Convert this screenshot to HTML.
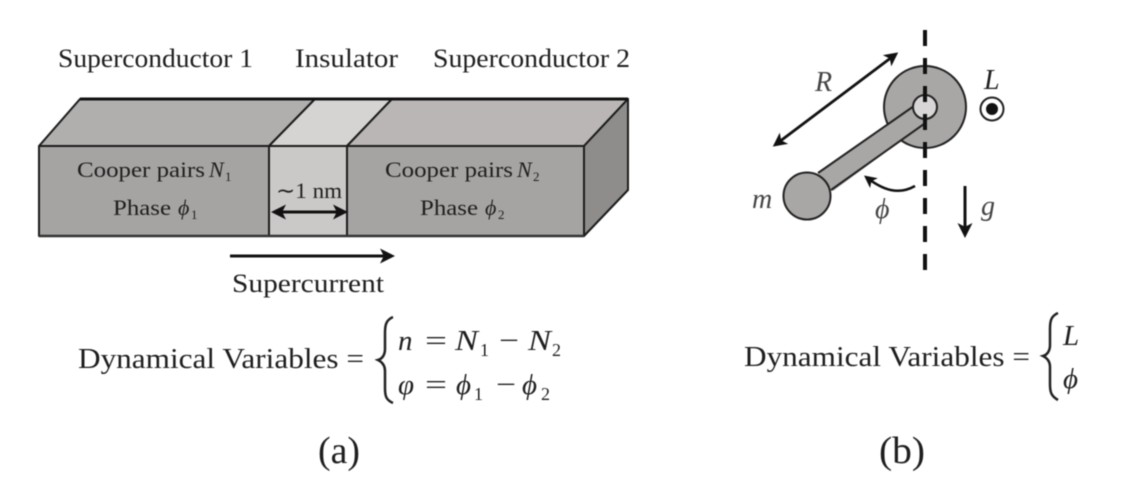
<!DOCTYPE html>
<html>
<head>
<meta charset="utf-8">
<style>
html,body{margin:0;padding:0;background:#fff;width:1136px;height:493px;overflow:hidden}
svg{display:block;filter:blur(.6px)}
text{font-family:"Liberation Serif",serif;fill:#1e1e1e}
.i{font-style:italic}
.g{fill:#444}
</style>
</head>
<body>
<svg width="1136" height="493" viewBox="0 0 1136 493" xmlns="http://www.w3.org/2000/svg">
<defs>
<marker id="ah" viewBox="0 0 10 10" refX="8" refY="5" markerWidth="5" markerHeight="5" orient="auto-start-reverse"><path d="M0 0L10 5L0 10L2.5 5z" fill="#111"/></marker>
</defs>

<!-- Junction block -->
<g stroke="#1c1c1c" stroke-width="2" stroke-linejoin="round">
<polygon points="39,146 80,99 315,99 269,146" fill="#b1aeae"/>
<polygon points="269,146 315,99 392,99 347,146" fill="#d6d4d3"/>
<polygon points="347,146 392,99 628,99 584,146" fill="#b9b6b5"/>
<polygon points="584,146 628,99 628,190 584,236" fill="#8f8d8c"/>
<rect x="39" y="146" width="230" height="90" fill="#a6a4a3"/>
<rect x="269" y="146" width="78" height="90" fill="#cbc9c8"/>
<rect x="347" y="146" width="237" height="90" fill="#a6a4a3"/>
</g>
<line x1="80" y1="99" x2="628" y2="99" stroke="#111" stroke-width="3"/>
<line x1="39" y1="236" x2="584" y2="236" stroke="#333" stroke-width="2.5"/>

<text x="58" y="67" font-size="26" textLength="195" lengthAdjust="spacingAndGlyphs">Superconductor 1</text>
<text x="295" y="67" font-size="26" textLength="103" lengthAdjust="spacingAndGlyphs">Insulator</text>
<text x="433" y="67" font-size="26" textLength="197" lengthAdjust="spacingAndGlyphs">Superconductor 2</text>

<text x="77" y="177" font-size="22" textLength="128" lengthAdjust="spacingAndGlyphs">Cooper pairs</text>
<text x="209" y="177" font-size="22" class="i">N</text><text x="225" y="181" font-size="13">1</text>
<text x="113" y="215" font-size="22" textLength="58" lengthAdjust="spacingAndGlyphs">Phase</text>
<text x="178" y="215" font-size="22" class="i">ϕ</text><text x="191" y="219" font-size="13">1</text>

<text x="385" y="177" font-size="22" textLength="128" lengthAdjust="spacingAndGlyphs">Cooper pairs</text>
<text x="517" y="177" font-size="22" class="i">N</text><text x="533" y="181" font-size="13">2</text>
<text x="420" y="215" font-size="22" textLength="58" lengthAdjust="spacingAndGlyphs">Phase</text>
<text x="485" y="215" font-size="22" class="i">ϕ</text><text x="498" y="219" font-size="13">2</text>

<text x="276" y="198" font-size="22" textLength="66" lengthAdjust="spacingAndGlyphs">∼1 nm</text>
<line x1="274" y1="212" x2="345" y2="212" stroke="#111" stroke-width="3" marker-start="url(#ah)" marker-end="url(#ah)"/>

<line x1="230" y1="256" x2="392" y2="256" stroke="#111" stroke-width="3" marker-end="url(#ah)"/>
<text x="232" y="292" font-size="26" textLength="152" lengthAdjust="spacingAndGlyphs">Supercurrent</text>

<!-- Equation a -->
<text x="78" y="368" font-size="29" textLength="286" lengthAdjust="spacingAndGlyphs">Dynamical Variables =</text>
<path d="M393 317C386 320 385 325 385 333V349C385 355 382 359 378 360C382 362 385 365 385 371V388C385 396 386 400 393 403" fill="none" stroke="#222" stroke-width="2.5"/>
<text x="398" y="350" font-size="29" class="i">n</text>
<text x="425" y="350" font-size="29" textLength="22" lengthAdjust="spacingAndGlyphs">=</text>
<text x="455" y="350" font-size="29" class="i" textLength="23" lengthAdjust="spacingAndGlyphs">N</text><text x="480" y="356" font-size="18">1</text>
<text x="499" y="350" font-size="29" textLength="20" lengthAdjust="spacingAndGlyphs">−</text>
<text x="528" y="350" font-size="29" class="i" textLength="23" lengthAdjust="spacingAndGlyphs">N</text><text x="552" y="356" font-size="18">2</text>
<text x="398" y="394" font-size="29" class="i">φ</text>
<text x="425" y="394" font-size="29" textLength="22" lengthAdjust="spacingAndGlyphs">=</text>
<text x="456" y="394" font-size="29" class="i">ϕ</text><text x="474" y="400" font-size="18">1</text>
<text x="496" y="394" font-size="29" textLength="20" lengthAdjust="spacingAndGlyphs">−</text>
<text x="522" y="394" font-size="29" class="i">ϕ</text><text x="541" y="400" font-size="18">2</text>

<text x="318" y="463" font-size="38" textLength="42" lengthAdjust="spacingAndGlyphs">(a)</text>

<!-- Pendulum -->
<circle cx="925" cy="107" r="41" fill="#a9a7a6" stroke="#222" stroke-width="2"/>
<polygon points="914,106 924,124 833,191 818,173" fill="#a9a7a6"/>
<line x1="914" y1="106" x2="818" y2="173" stroke="#222" stroke-width="2"/>
<line x1="924" y1="124" x2="831" y2="190" stroke="#222" stroke-width="2"/>
<circle cx="807" cy="196" r="23.5" fill="#a9a7a6" stroke="#222" stroke-width="2"/>
<circle cx="925" cy="107" r="12" fill="#d8d6d6" stroke="#222" stroke-width="2"/>
<line x1="925" y1="30" x2="925" y2="272" stroke="#111" stroke-width="4" stroke-dasharray="16 12"/>
<line x1="775" y1="145" x2="896" y2="54" stroke="#111" stroke-width="2.8" marker-start="url(#ah)" marker-end="url(#ah)"/>
<text x="815" y="91" font-size="28" class="i g">R</text>
<text x="984" y="89" font-size="28" class="i">L</text>
<circle cx="992" cy="109" r="11.5" fill="#fff" stroke="#222" stroke-width="2"/>
<circle cx="992" cy="109" r="6" fill="#111"/>
<text x="752" y="208" font-size="28" class="i g">m</text>
<path d="M915 186C899 195 884 191 866 177" fill="none" stroke="#111" stroke-width="2.5" marker-end="url(#ah)"/>
<text x="875" y="218" font-size="28" class="i g">ϕ</text>
<line x1="965" y1="186" x2="965" y2="235" stroke="#111" stroke-width="3" marker-end="url(#ah)"/>
<text x="981" y="215" font-size="28" class="i g">g</text>

<!-- Equation b -->
<text x="744" y="366" font-size="29" textLength="286" lengthAdjust="spacingAndGlyphs">Dynamical Variables =</text>
<path d="M1058 313C1051 316 1050 321 1050 329V345C1050 351 1047 355 1043 356C1047 358 1050 361 1050 367V384C1050 392 1051 396 1058 400" fill="none" stroke="#222" stroke-width="2.5"/>
<text x="1063" y="345" font-size="29" class="i">L</text>
<text x="1063" y="388" font-size="29" class="i">ϕ</text>

<text x="879" y="463" font-size="38" textLength="46" lengthAdjust="spacingAndGlyphs">(b)</text>
</svg>
</body>
</html>
